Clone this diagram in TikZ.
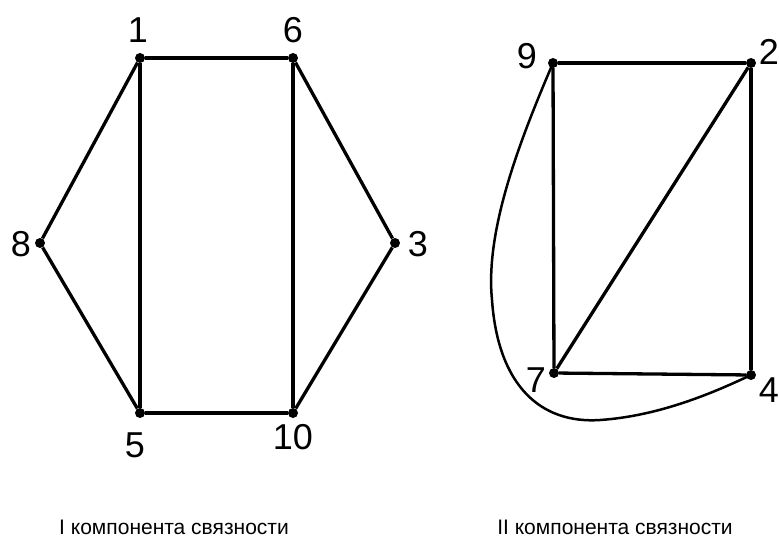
\documentclass[tikz,border=0pt]{standalone}
\usepackage{fontspec}
\setmainfont{Liberation Sans}
\begin{document}
\begin{tikzpicture}[x=1pt,y=-1pt,
  vtx/.style={circle,fill=black,inner sep=0pt,minimum size=10pt},
  num/.style={font=\fontsize{36}{36}\selectfont,inner sep=0pt},
  edge/.style={line width=3.3pt},
  captext/.style={font=\fontsize{21}{21}\selectfont,inner sep=0pt}]
\useasboundingbox (0,0) rectangle (779,538);
% component I
\node[vtx] (v1) at (140,58) {};
\node[vtx] (v6) at (293,58) {};
\node[vtx] (v8) at (40,243) {};
\node[vtx] (v3) at (395,243) {};
\node[vtx] (v5) at (140,413) {};
\node[vtx] (v10) at (293,413) {};
% component II
\node[vtx] (v9) at (553,63) {};
\node[vtx] (v2) at (751,63) {};
\node[vtx] (v7) at (554,373) {};
\node[vtx] (v4) at (751,375) {};
% labels
\node[num] (l1) at (138,30) {1};
\node[num] (l6) at (293,30) {6};
\node[num] (l8) at (21,244) {8};
\node[num] (l3) at (418,244) {3};
\node[num] (l5) at (135,445) {5};
\node[num] (l10) at (293,437) {10};
\node[num] (l9) at (527,56) {9};
\node[num] (l2) at (769,52) {2};
\node[num] (l7) at (536,380) {7};
\node[num] (l4) at (769,390) {4};
% edges I
\draw[edge] (v1) -- (v6);
\draw[edge] (v1) -- (v5);
\draw[edge] (v6) -- (v10);
\draw[edge] (v5) -- (v10);
\draw[edge] (v1) -- (v8);
\draw[edge] (v8) -- (v5);
\draw[edge] (v6) -- (v3);
\draw[edge] (v3) -- (v10);
% edges II
\draw[edge] (v9) -- (v2);
\draw[edge] (v9) -- (v7);
\draw[edge] (v2) -- (v4);
\draw[edge] (v7) -- (v4);
\draw[edge] (v7) -- (v2);
\coordinate (cL) at (492,300);
\coordinate (cB) at (600,420);
\draw[line width=2.5pt] (v9.center) .. controls (520,140) and (485,230) .. (cL)
  .. controls (498,385) and (540,424) .. (cB)
  .. controls (660,416) and (715,392) .. (v4.center);
% captions
\node[captext] (c1) at (174,527) {I компонента связности};
\node[captext] (c2) at (615,527) {II компонента связности};
\end{tikzpicture}
\end{document}
